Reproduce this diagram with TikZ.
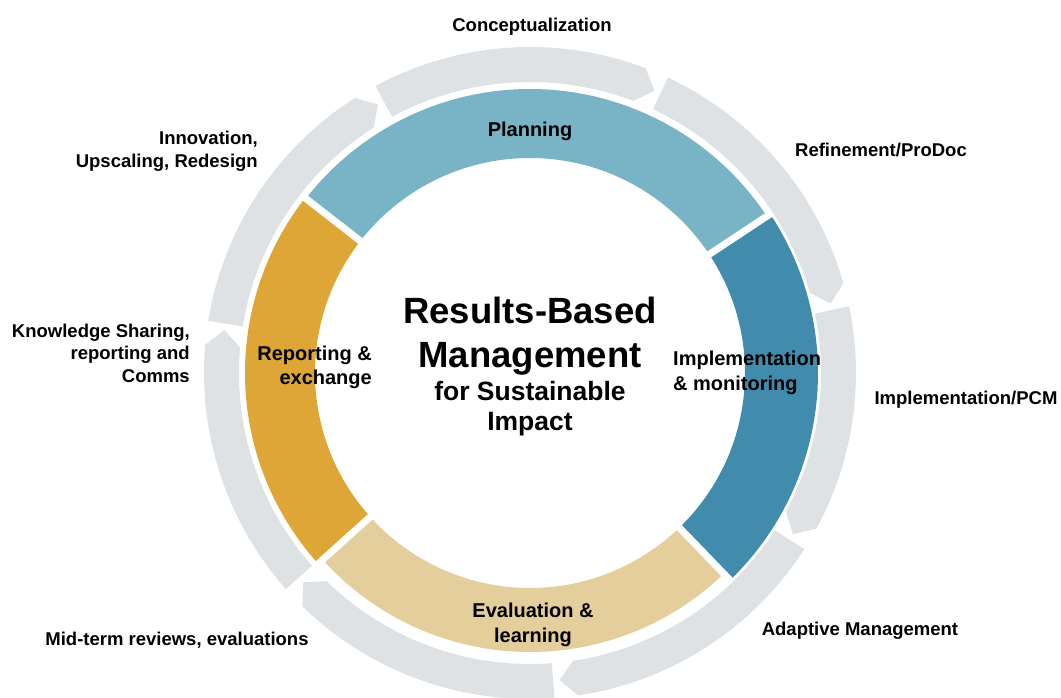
\documentclass[tikz,border=0pt]{standalone}
\usepackage{fontspec}
\setmainfont{Liberation Sans}

\definecolor{cyclegray}{RGB}{223,226,229}
\definecolor{planblue}{RGB}{121,180,198}
\definecolor{implblue}{RGB}{65,139,173}
\definecolor{evaltan}{RGB}{228,206,155}
\definecolor{reportgold}{RGB}{222,165,55}

\tikzset{
  steplabel/.style={inner sep=0pt, font=\bfseries\fontsize{18.5}{22.5}\selectfont},
  phaselabel/.style={inner sep=0pt, font=\bfseries\fontsize{20}{24.5}\selectfont},
}

% band of the inner ring: colour, from, to, outer radius
\newcommand{\ringband}[4]{%
  \fill[#1] (#2:215pt) arc[start angle=#2, end angle=#3, radius=215pt]
    -- (#3:#4) arc[start angle=#3, end angle=#2, radius=#4] -- cycle;}

% grey arrow of the outer cycle: tail angle, tip angle
\newcommand{\cycleseg}[2]{%
  \fill[cyclegray] (#1:291pt) -- (#1:326pt)
    arc[start angle=#1, end angle=#2+3, radius=326pt]
    -- (#2:308.5pt) -- ({#2+3}:291pt)
    arc[start angle=#2+3, end angle=#1, radius=291pt] -- cycle;}

\begin{document}
\begin{tikzpicture}[x=1pt, y=1pt]
        \useasboundingbox (-530, -324) rectangle (531, 373);

        % Outer cycle, clockwise arrows
        \foreach \tail/\tip in {118.3/66.2, 65/13, 11.8/-31.5, -32.7/-84.5,
                                -85.7/-137.3, -138.5/-188, -189.2/-240.5}
        {
            \cycleseg{\tail}{\tip}
        }

        % Inner ring
        \ringband{planblue}{142.1}{33.5}{284pt}
        \ringband{implblue}{33.5}{-46}{288pt}
        \ringband{evaltan}{-46}{-138}{279pt}
        \ringband{reportgold}{-138}{-217.9}{285pt}
        % white cuts between the bands
        \foreach \a in {142.1, 33.5, -46, -138}
        {
            \draw[white, line width=7pt] (\a:205pt) -- (\a:290pt);
        }

        % Phases on the ring
        \node (planning) at (0, 242) [phaselabel] {Planning};
        \node (implementation) at (143, 0) [phaselabel, anchor=west, align=left] {Implementation\\\& monitoring};
        \node (evaluation) at (3, -252) [phaselabel, align=center] {Evaluation \&\\learning};
        \node (reporting) at (-158, 5.5) [phaselabel, anchor=east, align=right] {Reporting \&\\exchange};

        % Centre title
        \node (title) at (0, 37) [inner sep=0pt, align=center, font=\bfseries\fontsize{36.5}{44}\selectfont] {Results-Based\\Management};
        \node (subtitle) at (0, -36) [inner sep=0pt, align=center, font=\bfseries\fontsize{26.5}{30}\selectfont] {for Sustainable\\Impact};

        % Steps round the cycle
        \node (concept) at (2, 346) [steplabel] {Conceptualization};
        \node (refine) at (351, 223) [steplabel] {Refinement/ProDoc};
        \node (pcm) at (436, -27) [steplabel] {Implementation/PCM};
        \node (adaptive) at (330, -258) [steplabel] {Adaptive Management};
        \node (midterm) at (-353, -267) [steplabel] {Mid-term reviews, evaluations};
        \node (knowledge) at (-340, 20) [steplabel, anchor=east, align=right] {Knowledge Sharing,\\reporting and\\Comms};
        \node (innovation) at (-272, 221.5) [steplabel, anchor=east, align=right] {Innovation,\\Upscaling, Redesign};
\end{tikzpicture}
\end{document}
